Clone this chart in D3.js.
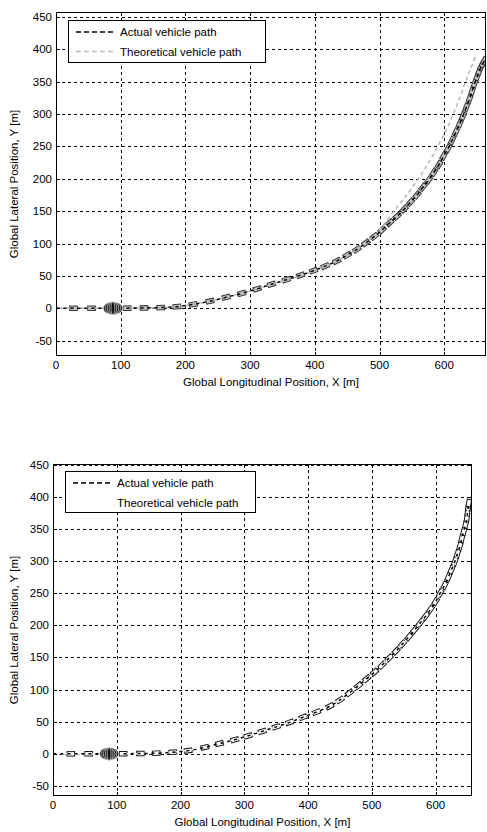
<!DOCTYPE html>
<html>
<head>
<meta charset="utf-8">
<script src="https://cdn.jsdelivr.net/npm/d3@7/dist/d3.min.js"></script>
<style>
  html, body { margin: 0; padding: 0; background: #fff; }
  svg { display: block; }
  text { font-family: "Liberation Sans", Arial, Helvetica, sans-serif; }
</style>
</head>
<body>
<svg id="chart" width="487" height="832"></svg>
<script>
// Axis ticks shared by both panels
const xTicks = [0, 100, 200, 300, 400, 500, 600];
const yTicks = [-50, 0, 50, 100, 150, 200, 250, 300, 350, 400, 450];

// Axis limits of each panel
const topXLim = [0, 664.6];
const topYLim = [-73.7, 457.5];
const botXLim = [0, 657];
const botYLim = [-65.6, 451];

// Vehicle footprint (length, width) in metres
const vehicleSize = [12, 7];

// Upper panel: actual path (vehicle snapshot centres) [X, Y]
const topActual = [
  [0, 0], [27, 0], [55, 0], [110, 0.2], [136, 0.5], [162, 1], [187, 2.5], [212, 6],
  [238, 11], [263, 17], [287, 23], [311, 30], [333, 37], [356, 44], [378, 51],
  [398, 58], [416, 65], [434, 73], [450, 82], [465, 91], [479, 101], [492, 111],
  [504, 121], [516, 132], [527, 142], [538, 153], [548, 164], [558, 175],
  [567, 187], [576, 198], [584, 210], [592, 222], [599, 235], [606, 247],
  [612, 259], [618, 272], [624, 285], [629, 297], [634, 310], [639, 323],
  [643, 335], [647, 347], [651, 358], [654, 366], [657, 373], [660, 378], [662, 382]
];
// Upper panel: theoretical path [X, Y]
const topTheory = [
  [0, 0], [100, 0], [150, 0.5], [200, 4], [250, 14], [300, 27], [350, 42],
  [400, 58], [450, 82], [480, 102], [500, 121], [522, 150], [542, 175],
  [560, 200], [576, 225], [590, 250], [603, 275], [614, 300], [624, 325],
  [633, 350], [641, 370], [648, 388]
];

// Lower panel: actual path (vehicle snapshot centres) [X, Y]
const botActual = [
  [0, 0], [28, 0], [56, 0], [110, 0.2], [137, 0.5], [162, 1], [188, 2.5], [212, 5],
  [238, 10], [261, 16], [285, 22], [306, 28], [328, 35], [350, 42], [371, 49],
  [392, 57], [413, 65], [434, 74], [450, 84], [465, 95], [479, 106], [492, 117],
  [504, 127], [516, 138], [527, 149], [538, 160], [548, 171], [558, 182],
  [567, 193], [576, 204], [584, 214], [592, 225], [600, 237], [607, 250],
  [614, 262], [620, 275], [625, 287], [630, 299], [634, 311], [638, 323],
  [641, 335], [644, 346], [647, 357], [649, 367], [650, 376], [651, 384], [652, 390]
];
// Lower panel: theoretical path [X, Y]
const botTheory = [
  [0, 0], [100, 0], [150, 0.6], [200, 4], [250, 13], [300, 26], [350, 42],
  [400, 60], [450, 84], [500, 123], [540, 162], [576, 204], [607, 250],
  [630, 299], [644, 346], [650, 376], [652, 390]
];

// Start-up cluster: nested outlines centred near X = 88, half-widths in metres
const clusterCentre = 88;
const clusterHalfWidths = [15, 12, 9, 6, 3];

const legendLabels = ["Actual vehicle path", "Theoretical vehicle path"];

const svg = d3.select("#chart");

function drawPanel(cfg) {
  const x = d3.scaleLinear().domain(cfg.xLim).range([cfg.left, cfg.right]);
  const y = d3.scaleLinear().domain(cfg.yLim).range([cfg.bottom, cfg.top]);
  const g = svg.append("g");
  const clipId = "clip-" + cfg.id;

  g.append("clipPath").attr("id", clipId)
    .append("rect")
    .attr("x", cfg.left).attr("y", cfg.top)
    .attr("width", cfg.right - cfg.left).attr("height", cfg.bottom - cfg.top);

  g.append("rect")
    .attr("x", cfg.left).attr("y", cfg.top)
    .attr("width", cfg.right - cfg.left).attr("height", cfg.bottom - cfg.top)
    .attr("fill", "#fff");

  // dotted grid
  const grid = g.append("g").attr("stroke", "#000").attr("stroke-width", 1)
    .attr("stroke-dasharray", "3,3").attr("fill", "none");
  grid.selectAll("line.vx").data(xTicks.filter(t => t > cfg.xLim[0])).join("line")
    .attr("x1", d => Math.round(x(d)) + 0.5).attr("x2", d => Math.round(x(d)) + 0.5)
    .attr("y1", cfg.top).attr("y2", cfg.bottom);
  grid.selectAll("line.hy").data(yTicks).join("line")
    .attr("y1", d => Math.round(y(d)) + 0.5).attr("y2", d => Math.round(y(d)) + 0.5)
    .attr("x1", cfg.left).attr("x2", cfg.right);

  const plot = g.append("g").attr("clip-path", `url(#${clipId})`);

  // vehicle footprints along the actual path
  const pts = cfg.actual.map(p => [x(p[0]), y(p[1])]);
  const kx = (x(1) - x(0));
  const L = vehicleSize[0] * kx, W = vehicleSize[1] * kx;
  const snaps = pts.map((p, i) => {
    const a = pts[Math.max(0, i - 1)], b = pts[Math.min(pts.length - 1, i + 1)];
    return { p, ang: Math.atan2(b[1] - a[1], b[0] - a[0]) * 180 / Math.PI };
  }).slice(1);

  plot.append("g").selectAll("rect").data(snaps).join("rect")
    .attr("x", -L / 2).attr("y", -W / 2).attr("width", L).attr("height", W)
    .attr("transform", d => `translate(${d.p[0]},${d.p[1]}) rotate(${d.ang})`)
    .attr("fill", cfg.vehFill).attr("stroke", cfg.vehStroke).attr("stroke-width", 1);

  const line = d3.line().x(d => x(d[0])).y(d => y(d[1])).curve(d3.curveCatmullRom.alpha(0.5));

  plot.append("path").datum(cfg.actual)
    .attr("d", line).attr("fill", "none")
    .attr("stroke", "#000").attr("stroke-width", 1.5).attr("stroke-dasharray", "4,3");

  plot.append("path").datum(cfg.theory)
    .attr("d", line).attr("fill", "none")
    .attr("stroke", cfg.theoryColor).attr("stroke-width", 1.5)
    .attr("stroke-dasharray", "4,3").attr("stroke-dashoffset", cfg.theoryOffset);

  // start-up cluster of nested outlines
  plot.append("g").selectAll("ellipse").data(clusterHalfWidths).join("ellipse")
    .attr("cx", x(clusterCentre)).attr("cy", y(0))
    .attr("rx", d => d * kx).attr("ry", 10 * kx)
    .attr("fill", "#111").attr("stroke", "#fff").attr("stroke-width", 0.6);

  // frame
  g.append("rect")
    .attr("x", cfg.left + 0.5).attr("y", cfg.top + 0.5)
    .attr("width", cfg.right - cfg.left - 1).attr("height", cfg.bottom - cfg.top - 1)
    .attr("fill", "none").attr("stroke", "#000").attr("stroke-width", 1);

  // inward ticks on all four sides
  const tk = g.append("g").attr("stroke", "#000").attr("stroke-width", 1);
  xTicks.forEach(t => {
    const px = Math.round(x(t)) + 0.5;
    tk.append("line").attr("x1", px).attr("x2", px).attr("y1", cfg.bottom).attr("y2", cfg.bottom - 4);
    tk.append("line").attr("x1", px).attr("x2", px).attr("y1", cfg.top).attr("y2", cfg.top + 4);
  });
  yTicks.forEach(t => {
    const py = Math.round(y(t)) + 0.5;
    tk.append("line").attr("y1", py).attr("y2", py).attr("x1", cfg.left).attr("x2", cfg.left + 4);
    tk.append("line").attr("y1", py).attr("y2", py).attr("x1", cfg.right).attr("x2", cfg.right - 4);
  });

  // tick labels
  g.append("g").selectAll("text").data(xTicks).join("text")
    .attr("x", d => x(d)).attr("y", cfg.bottom + 13)
    .attr("text-anchor", "middle").attr("font-size", 11.5).attr("fill", "#000")
    .text(d => d);
  g.append("g").selectAll("text").data(yTicks).join("text")
    .attr("x", cfg.left - 4).attr("y", d => y(d) + 4)
    .attr("text-anchor", "end").attr("font-size", 11.5).attr("fill", "#000")
    .text(d => d);

  // axis titles
  g.append("text")
    .attr("x", (cfg.left + cfg.right) / 2).attr("y", cfg.bottom + 30)
    .attr("text-anchor", "middle").attr("font-size", 11.5)
    .text("Global Longitudinal Position, X [m]");
  g.append("text")
    .attr("transform", `translate(18,${(cfg.top + cfg.bottom) / 2}) rotate(-90)`)
    .attr("text-anchor", "middle").attr("font-size", 11.5)
    .text("Global Lateral Position, Y [m]");

  // legend
  const lg = g.append("g");
  lg.append("rect")
    .attr("x", cfg.legend.x + 0.5).attr("y", cfg.legend.y + 0.5)
    .attr("width", cfg.legend.w).attr("height", cfg.legend.h)
    .attr("fill", "#fff").attr("stroke", "#000").attr("stroke-width", 1);
  const colors = ["#000", cfg.theoryColor];
  legendLabels.forEach((lab, i) => {
    const cy = cfg.legend.y + 12 + i * 19.5;
    lg.append("line")
      .attr("x1", cfg.legend.x + 8).attr("x2", cfg.legend.x + 46)
      .attr("y1", cy).attr("y2", cy)
      .attr("stroke", colors[i]).attr("stroke-width", 1.6).attr("stroke-dasharray", "5,3");
    lg.append("text")
      .attr("x", cfg.legend.x + 52).attr("y", cy + 4)
      .attr("font-size", 11.5).attr("fill", "#000").text(lab);
  });
}

drawPanel({
  id: "top", xLim: topXLim, yLim: topYLim,
  left: 56, right: 486, top: 12, bottom: 356,
  actual: topActual, theory: topTheory,
  theoryColor: "#b8b8b8", theoryOffset: 3.5,
  vehFill: "#c4c4c4", vehStroke: "#3a3a3a",
  legend: { x: 68, y: 20, w: 197, h: 42 }
});

drawPanel({
  id: "bot", xLim: botXLim, yLim: botYLim,
  left: 53, right: 472, top: 464, bottom: 796,
  actual: botActual, theory: botTheory,
  theoryColor: "#fff", theoryOffset: 3.5,
  vehFill: "#fff", vehStroke: "#1a1a1a",
  legend: { x: 65, y: 471, w: 190, h: 41 }
});
</script>
</body>
</html>
